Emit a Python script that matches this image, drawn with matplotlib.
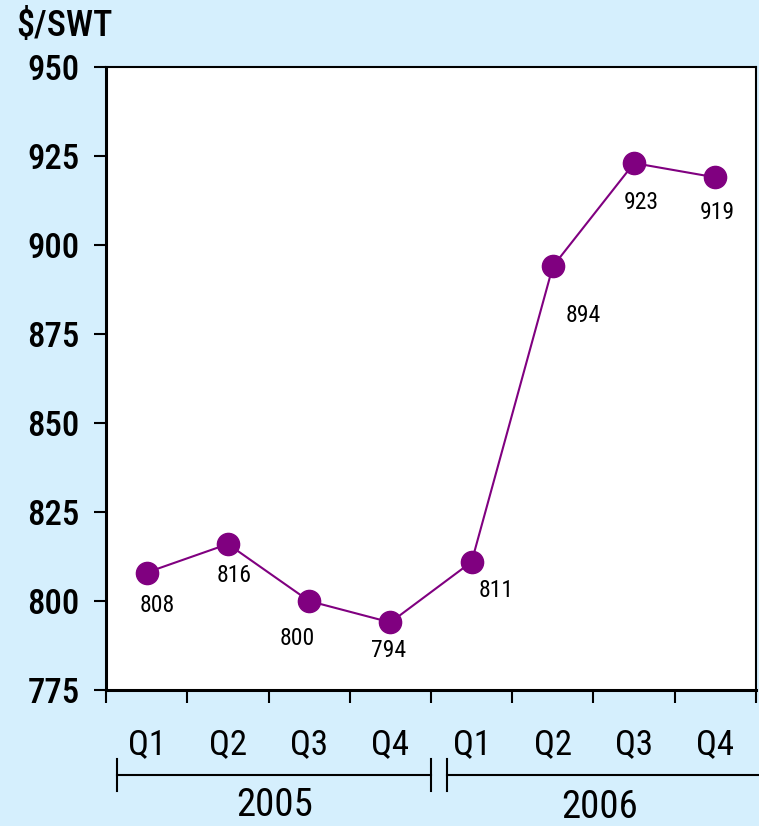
import matplotlib
matplotlib.use('Agg')
import matplotlib.pyplot as plt
import matplotlib.transforms as mtransforms
from matplotlib import font_manager

# --- data ---
quarters = ['Q1', 'Q2', 'Q3', 'Q4', 'Q1', 'Q2', 'Q3', 'Q4']
years = ['2005', '2006']
prices = [808, 816, 800, 794, 811, 894, 923, 919]
# label offsets (pixels) relative to each marker
label_dx = [11, 6, -12, -2, 25, 30, 7, 2]
label_dy = [-33, -31, -37, -28, -29, -49, -39, -35]

names = {f.name for f in font_manager.fontManager.ttflist}
fam = [n for n in ['Roboto Condensed', 'Archivo Narrow', 'Liberation Sans'] if n in names][:1] + ['DejaVu Sans']
plt.rcParams['font.family'] = fam

bg = '#D5EFFD'
purple = '#800080'
heavy = 'medium'

fig = plt.figure(figsize=(7.59, 8.26), dpi=100, facecolor=bg)
ax = fig.add_axes([0.1397, 0.1646, 0.996 - 0.1397, 0.9189 - 0.1646])
ax.set_facecolor('white')

x = list(range(len(prices)))
ax.plot(x, prices, color=purple, lw=1.5, marker='o', ms=16, mfc=purple, mec=purple, zorder=3)

for xi, p, dx, dy in zip(x, prices, label_dx, label_dy):
    ax.annotate(str(p), (xi, p), xytext=(dx, dy), textcoords='offset pixels',
                ha='center', va='center', fontsize=17, color='black')

ax.set_xlim(-0.5, 7.5)
ax.set_ylim(775, 950)
ax.set_yticks([775, 800, 825, 850, 875, 900, 925, 950])
ax.tick_params(axis='y', direction='out', length=9, width=1.5, pad=10, labelsize=25)
for lab in ax.get_yticklabels():
    lab.set_fontweight(heavy)

ax.set_xticks([i - 0.5 for i in range(9)])
ax.set_xticklabels([])
ax.tick_params(axis='x', direction='out', length=9, width=1.5)

for s in ['left', 'bottom']:
    ax.spines[s].set_linewidth(2.2)
for s in ['top', 'right']:
    ax.spines[s].set_linewidth(1.5)

trans = mtransforms.blended_transform_factory(ax.transData, ax.transAxes)
for xi, q in zip(x, quarters):
    ax.text(xi, -0.088, q, transform=trans, ha='center', va='center',
            fontsize=25, clip_on=False)

# year brackets
br_y = -0.1364
tick_h = 0.025
segments = [(-0.36, 3.5), (3.7, 7.6)]
year_x = [1.57, 5.58]
year_y = [-0.1846, -0.189]
for (a, b), yr, xx, yy in zip(segments, years, year_x, year_y):
    ax.plot([a, b], [br_y, br_y], color='black', lw=1.5, transform=trans, clip_on=False)
    ax.plot([a, a], [br_y - tick_h, br_y + tick_h], color='black', lw=1.5, transform=trans, clip_on=False)
    ax.plot([b, b], [br_y - tick_h, br_y + tick_h], color='black', lw=1.5, transform=trans, clip_on=False)
    ax.text(xx, yy, yr, transform=trans, ha='center', va='center',
            fontsize=28, clip_on=False)

fig.text(0.022, 0.968, '$/SWT', ha='left', va='center', fontsize=26, fontweight=heavy)

fig.savefig('out.png', dpi=100, facecolor=bg)
